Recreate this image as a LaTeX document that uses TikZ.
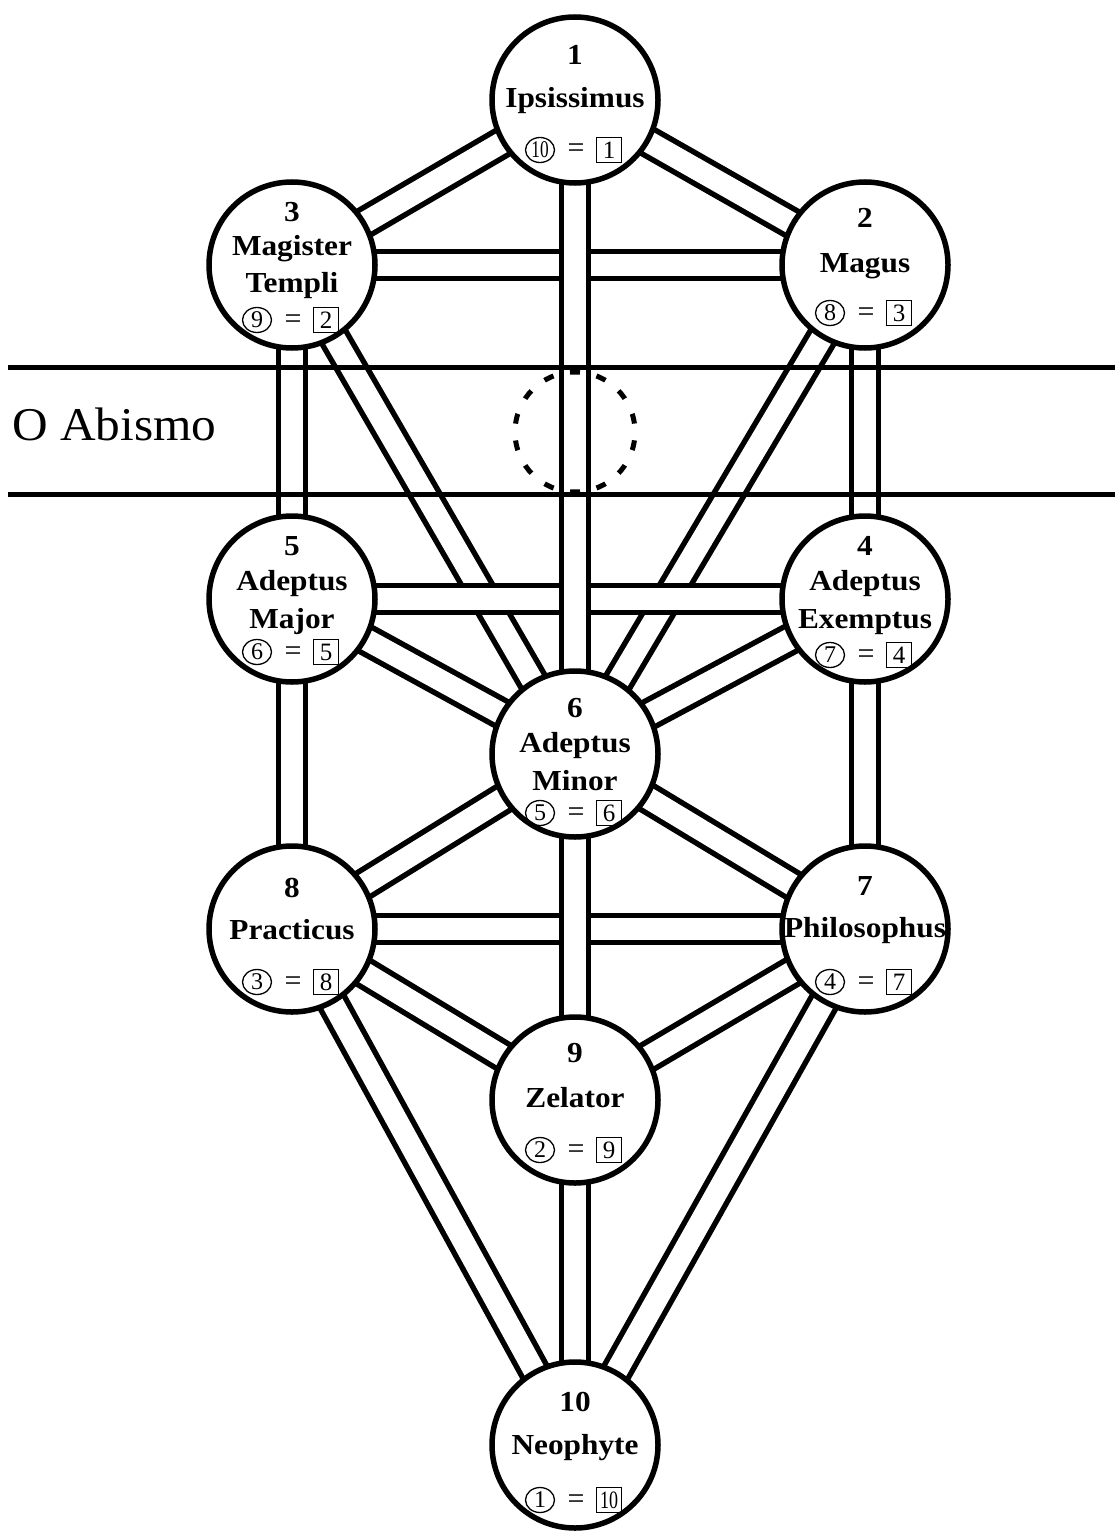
\documentclass[tikz,border=0pt]{standalone}
\usepackage{fontspec}
\setmainfont{Liberation Serif}
\newfontfamily\gradefont[FakeStretch=1.08]{Liberation Serif}
\newfontfamily\abyssfont[FakeStretch=1.05]{Liberation Serif}
\usetikzlibrary{backgrounds,shapes.geometric}
\tikzset{
  sephira/.style={circle, draw, line width=5.5pt, fill=white, minimum size=166pt, inner sep=0pt},
  pathway/.style={draw, line width=5.5pt, double=white, double distance=21.5pt},
  abyssline/.style={line width=5.5pt},
  numtxt/.style={font=\gradefont\fontsize{29}{29}\selectfont\bfseries, anchor=base, inner sep=0pt},
  nametxt/.style={font=\gradefont\fontsize{29}{29}\selectfont\bfseries, anchor=base, inner sep=0pt},
  circnum/.style={ellipse, draw, line width=1.3pt, minimum width=29pt, minimum height=25pt, inner sep=0pt, font=\fontsize{24}{24}\selectfont},
  boxnum/.style={rectangle, draw, line width=1.3pt, minimum size=25pt, inner sep=0.5pt, font=\fontsize{25}{25}\selectfont},
  eqsign/.style={inner sep=0pt, anchor=base, font=\fontsize{30}{30}\selectfont},
  abysslabel/.style={font=\abyssfont\fontsize{47}{47}\selectfont, anchor=base west, inner sep=0pt}
}
\newcommand\gradesym[5]{%
  \node[circnum] (#1-c) at (#2-35,#3) {#4};
  \node[eqsign] (#1-e) at (#2+1,#3+8) {=};
  \node[boxnum] (#1-b) at (#2+34,#3) {#5};
}
\newcommand\tennum{\scalebox{0.72}[1]{10}}
\begin{document}
\begin{tikzpicture}[x=1pt,y=-1pt]
\useasboundingbox (0,0) rectangle (1115,1533);
% sephiroth
\node[sephira] (s1) at (575,100) {};
\node[sephira] (s2) at (865,265) {};
\node[sephira] (s3) at (292,265) {};
\node[sephira] (s4) at (865,599) {};
\node[sephira] (s5) at (292,599) {};
\node[sephira] (s6) at (575,754) {};
\node[sephira] (s7) at (865,929) {};
\node[sephira] (s8) at (292,929) {};
\node[sephira] (s9) at (575,1100) {};
\node[sephira] (s10) at (575,1445) {};
% texts
\node[numtxt] (s1-n) at (575,65) {1};
\node[nametxt] (s1-t) at (575,108) {Ipsissimus};
\gradesym{s1}{575}{150}{\tennum}{1}
\node[numtxt] (s2-n) at (865,227) {2};
\node[nametxt] (s2-t) at (865,272) {Magus};
\gradesym{s2}{865}{313}{8}{3}
\node[numtxt] (s3-n) at (292,222) {3};
\node[nametxt] (s3-t) at (292,255) {Magister};
\node[nametxt] (s3-u) at (292,292) {Templi};
\gradesym{s3}{292}{320}{9}{2}
\node[numtxt] (s4-n) at (865,555) {4};
\node[nametxt] (s4-t) at (865,590) {Adeptus};
\node[nametxt] (s4-u) at (865,628) {Exemptus};
\gradesym{s4}{865}{655}{7}{4}
\node[numtxt] (s5-n) at (292,555) {5};
\node[nametxt] (s5-t) at (292,590) {Adeptus};
\node[nametxt] (s5-u) at (292,628) {Major};
\gradesym{s5}{292}{652}{6}{5}
\node[numtxt] (s6-n) at (575,717) {6};
\node[nametxt] (s6-t) at (575,752) {Adeptus};
\node[nametxt] (s6-u) at (575,790) {Minor};
\gradesym{s6}{575}{813}{5}{6}
\node[numtxt] (s7-n) at (865,895) {7};
\node[nametxt] (s7-t) at (865,937) {Philosophus};
\gradesym{s7}{865}{982}{4}{7}
\node[numtxt] (s8-n) at (292,897) {8};
\node[nametxt] (s8-t) at (292,939) {Practicus};
\gradesym{s8}{292}{982}{3}{8}
\node[numtxt] (s9-n) at (575,1062) {9};
\node[nametxt] (s9-t) at (575,1107) {Zelator};
\gradesym{s9}{575}{1150}{2}{9}
\node[numtxt] (s10-n) at (575,1411) {10};
\node[nametxt] (s10-t) at (575,1454) {Neophyte};
\gradesym{s10}{575}{1500}{1}{\tennum}
% paths
\begin{scope}[on background layer]
  % diagonals
  \draw[pathway] (s1.center) -- (s2.center);
  \draw[pathway] (s1.center) -- (s3.center);
  \draw[pathway] (s2.center) -- (s6.center);
  \draw[pathway] (s3.center) -- (s6.center);
  \draw[pathway] (s4.center) -- (s6.center);
  \draw[pathway] (s5.center) -- (s6.center);
  \draw[pathway] (s6.center) -- (s7.center);
  \draw[pathway] (s6.center) -- (s8.center);
  \draw[pathway] (s7.center) -- (s9.center);
  \draw[pathway] (s8.center) -- (s9.center);
  \draw[pathway] (s7.center) -- (s10.center);
  \draw[pathway] (s8.center) -- (s10.center);
  % horizontals
  \draw[pathway] (s3.center) -- (s2.center);
  \draw[pathway] (s5.center) -- (s4.center);
  \draw[pathway] (s8.center) -- (s7.center);
  % verticals
  \draw[pathway] (s2.center) -- (s4.center);
  \draw[pathway] (s3.center) -- (s5.center);
  \draw[pathway] (s4.center) -- (s7.center);
  \draw[pathway] (s5.center) -- (s8.center);
  \draw[pathway] (s1.center) -- (s6.center);
  \draw[pathway] (s6.center) -- (s9.center);
  \draw[pathway] (s9.center) -- (s10.center);
\end{scope}
% the abyss
\coordinate (abyssA1) at (8,367.5);
\coordinate (abyssA2) at (1115,367.5);
\coordinate (abyssB1) at (8,494.5);
\coordinate (abyssB2) at (1115,494.5);
\draw[abyssline] (abyssA1) -- (abyssA2);
\draw[abyssline] (abyssB1) -- (abyssB2);
\node[abysslabel] (abysstxt) at (12,440) {O Abismo};
\coordinate (daath) at (575,432);
\draw[line width=5pt, dash pattern=on 10pt off 16.93pt, dash phase=18.46pt] (daath) circle[radius=60pt];
\end{tikzpicture}
\end{document}
